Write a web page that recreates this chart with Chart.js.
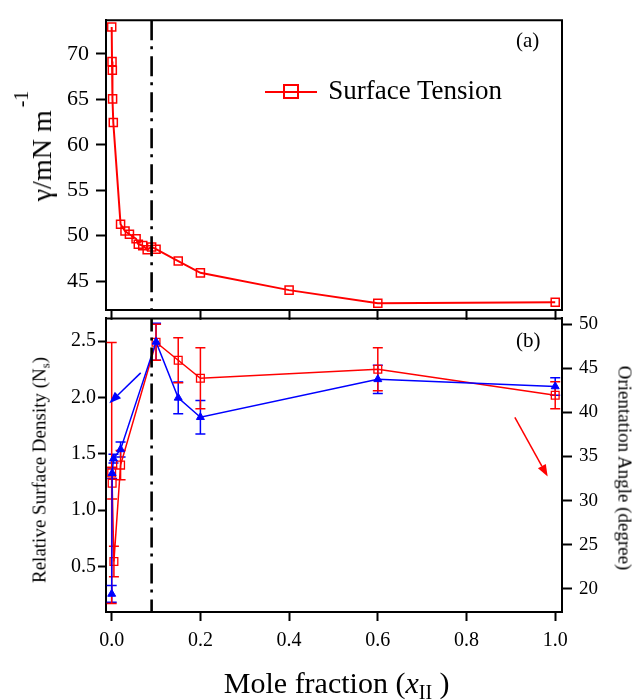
<!DOCTYPE html>
<html><head><meta charset="utf-8">
<script src="https://cdn.jsdelivr.net/npm/chart.js@4.4.1/dist/chart.umd.min.js"></script>
<style>
html,body{margin:0;padding:0;background:#fff;}
#wrap{position:relative;width:632px;height:700px;overflow:hidden;font-family:'Liberation Serif','Times New Roman',serif;color:#000;}
canvas{position:absolute;left:0;}
.t{position:absolute;white-space:nowrap;line-height:1;}
.rot{transform:translate(-50%,-50%) rotate(-90deg);}
.rotr{transform:translate(-50%,-50%) rotate(90deg);}
.ctr{transform:translateX(-50%);}
</style></head><body>
<div id="wrap">
<canvas id="cA" width="632" height="330" style="top:0"></canvas>
<canvas id="cB" width="632" height="400" style="top:300px"></canvas>

<div class="t rot" style="left:41.5px;top:146px;font-size:28px">γ/mN m<span style="font-size:20px;position:relative;top:-23px;margin-left:3px">-1</span></div>
<div class="t rot" style="left:38.6px;top:470px;font-size:19px">Relative Surface Density (N<span style="font-size:13px;position:relative;top:4px">s</span>)</div>
<div class="t rotr" style="left:625.4px;top:467.5px;font-size:19px">Orientation Angle (degree)</div>
<div class="t ctr" style="left:336.7px;top:668px;font-size:30px">Mole fraction (<i>x</i><span style="font-size:20px;position:relative;top:6px">II</span> )</div>
<div class="t" style="left:516px;top:30px;font-size:21px">(a)</div>
<div class="t" style="left:516px;top:330px;font-size:21px">(b)</div>

<div style="position:absolute;left:265px;top:90.5px;width:52px;height:2.5px;background:#ff0000"></div>
<div style="position:absolute;left:282.7px;top:84px;width:16px;height:15px;border:2px solid #ff0000;box-sizing:border-box"></div>
<div class="t" style="left:328.3px;top:77.4px;font-size:27px">Surface Tension</div>
</div>
<script>
// ---------------- data ----------------
const xTicks = [0, 0.2, 0.4, 0.6, 0.8, 1.0];
const tensionTicks = [45, 50, 55, 60, 65, 70];
const densityTicks = [0.5, 1.0, 1.5, 2.0, 2.5];
const angleTicks = [20, 25, 30, 35, 40, 45, 50];

const surfaceX = [0, 0.0007, 0.0014, 0.002, 0.0036, 0.02, 0.03, 0.04, 0.055, 0.06, 0.07, 0.08, 0.09, 0.1, 0.15, 0.2, 0.4, 0.6, 1.0];
const surfaceTension = [72.95, 69.15, 68.2, 65.05, 62.45, 51.25, 50.5, 50.15, 49.65, 49.05, 48.9, 48.45, 48.75, 48.5, 47.2, 45.9, 44.0, 42.56, 42.67];

const densityX = [0, 0.001, 0.005, 0.02, 0.1, 0.15, 0.2, 0.6, 1.0];
const density = [1.33, 1.24, 0.545, 1.40, 2.49, 2.33, 2.17, 2.25, 2.02];
const densityErr = [1.157, 0.14, 0.135, 0.13, 0.16, 0.2, 0.27, 0.19, 0.12];

const angleX = [0, 0.001, 0.004, 0.02, 0.1, 0.15, 0.2, 0.6, 1.0];
const angle = [19.4, 33.1, 34.75, 35.8, 48.0, 41.65, 39.45, 43.75, 42.94];
const angleErr = [0.95, 0.6, 0.5, 0.85, 2.1, 1.8, 1.9, 1.6, 1.0];

const cmcX = 0.09;
// annotation arrows in data units (x, left axis)
const arrowNotes = [
  {from: [0.0654, 2.218], to: [-0.0054, 1.948], color: '#0000ff'},
  {from: [0.909, 1.824], to: [0.983, 1.298], color: '#ff0000'}
];

// ---------------- helpers ----------------
Chart.defaults.font.family = "'Liberation Serif','Times New Roman',serif";
Chart.defaults.color = '#000';
const RED = '#ff0000', BLUE = '#0000ff';
const pts = (xs, ys) => xs.map((x, i) => ({x, y: ys[i]}));
const fixTicks = arr => (scale) => { scale.ticks = arr.map(v => ({value: v})); };
const XMIN = -0.01285, XMAX = 1.0153;

const errorBars = {
  id: 'errorBars',
  beforeDatasetsDraw(chart) {
    const ctx = chart.ctx;
    chart.data.datasets.forEach((ds) => {
      if (!ds.errors) return;
      const ys = chart.scales[ds.yAxisID], xs = chart.scales.x;
      ctx.save();
      ctx.strokeStyle = ds.borderColor; ctx.lineWidth = 1.5;
      ds.data.forEach((p, j) => {
        const e = ds.errors[j];
        const x = xs.getPixelForValue(p.x);
        const y1 = ys.getPixelForValue(p.y + e), y2 = ys.getPixelForValue(p.y - e);
        ctx.beginPath();
        ctx.moveTo(x, y1); ctx.lineTo(x, y2);
        ctx.moveTo(x - 5, y1); ctx.lineTo(x + 5, y1);
        ctx.moveTo(x - 5, y2); ctx.lineTo(x + 5, y2);
        ctx.stroke();
      });
      ctx.restore();
    });
  }
};

const cmcLine = {
  id: 'cmcLine',
  afterDatasetsDraw(chart, args, opts) {
    const ctx = chart.ctx, a = chart.chartArea;
    const x = chart.scales.x.getPixelForValue(cmcX);
    ctx.save();
    ctx.setLineDash([20, 6, 3, 7]);
    ctx.lineDashOffset = opts.offset || 0;
    ctx.lineWidth = 2.6; ctx.strokeStyle = '#000';
    ctx.beginPath(); ctx.moveTo(x, a.top); ctx.lineTo(x, a.bottom); ctx.stroke();
    ctx.restore();
  }
};

const frame = {
  id: 'frame',
  afterDraw(chart, args, opts) {
    const ctx = chart.ctx, a = chart.chartArea;
    ctx.save(); ctx.strokeStyle = '#000'; ctx.lineWidth = 2;
    ctx.beginPath();
    if (opts.top) { ctx.moveTo(a.left - 1, a.top); ctx.lineTo(a.right + 1, a.top); }
    if (opts.right) { ctx.moveTo(a.right, a.top); ctx.lineTo(a.right, a.bottom); }
    ctx.stroke(); ctx.restore();
  }
};

const arrows = {
  id: 'arrows',
  afterDatasetsDraw(chart) {
    const ctx = chart.ctx, xs = chart.scales.x, ys = chart.scales.yL;
    arrowNotes.forEach(n => {
      const x1 = xs.getPixelForValue(n.from[0]), y1 = ys.getPixelForValue(n.from[1]);
      const x2 = xs.getPixelForValue(n.to[0]), y2 = ys.getPixelForValue(n.to[1]);
      const ang = Math.atan2(y2 - y1, x2 - x1), L = 12, W = 4.5;
      ctx.save(); ctx.strokeStyle = n.color; ctx.fillStyle = n.color; ctx.lineWidth = 1.5;
      const bx = x2 - L * Math.cos(ang), by = y2 - L * Math.sin(ang);
      ctx.beginPath(); ctx.moveTo(x1, y1); ctx.lineTo(bx, by); ctx.stroke();
      ctx.beginPath(); ctx.moveTo(x2, y2);
      ctx.lineTo(bx + W * Math.sin(ang), by - W * Math.cos(ang));
      ctx.lineTo(bx - W * Math.sin(ang), by + W * Math.cos(ang));
      ctx.closePath(); ctx.fill(); ctx.restore();
    });
  }
};

const axisStyle = (tickLen) => ({
  grid: {drawOnChartArea: false, drawTicks: true, tickLength: tickLen, tickWidth: 2, tickColor: '#000', color: '#000'},
  border: {display: true, color: '#000', width: 2}
});

// ---------------- chart (a) ----------------
new Chart(document.getElementById('cA'), {
  type: 'scatter',
  data: {datasets: [{
    data: pts(surfaceX, surfaceTension), yAxisID: 'y',
    showLine: true, borderColor: RED, borderWidth: 2, tension: 0,
    pointStyle: 'rect', pointRadius: 5.7, pointBorderWidth: 1.5,
    pointBorderColor: RED, pointBackgroundColor: 'rgba(0,0,0,0)'
  }]},
  options: {
    responsive: false, animation: false, devicePixelRatio: 1,
    layout: {padding: {left: 0, top: 15, right: 70, bottom: 0}},
    plugins: {legend: {display: false}, tooltip: {enabled: false},
      frame: {top: true, right: true}, cmcLine: {offset: 0}},
    scales: {
      x: {type: 'linear', position: 'bottom', min: XMIN, max: XMAX, ...axisStyle(10),
        ticks: {display: false}, afterBuildTicks: fixTicks(xTicks),
        afterFit: s => { s.height = 20; }},
      y: {type: 'linear', position: 'left', min: 41.834, max: 73.706, ...axisStyle(10),
        ticks: {font: {size: 22}, padding: 7, callback: v => String(v)},
        afterBuildTicks: fixTicks(tensionTicks), afterFit: s => { s.width = 106; }}
    }
  },
  plugins: [cmcLine, frame]
});

// ---------------- chart (b) ----------------
new Chart(document.getElementById('cB'), {
  type: 'scatter',
  data: {datasets: [
    {label: 'Orientation Angle', data: pts(angleX, angle), errors: angleErr, yAxisID: 'yR', order: 0,
     showLine: true, borderColor: BLUE, borderWidth: 1.5, tension: 0,
     pointStyle: 'triangle', pointRadius: 4.6, pointBorderWidth: 1,
     pointBorderColor: BLUE, pointBackgroundColor: BLUE},
    {label: 'Relative Surface Density', data: pts(densityX, density), errors: densityErr, yAxisID: 'yL', order: 1,
     showLine: true, borderColor: RED, borderWidth: 1.5, tension: 0,
     pointStyle: 'rect', pointRadius: 5.5, pointBorderWidth: 1.3,
     pointBorderColor: RED, pointBackgroundColor: 'rgba(0,0,0,0)'}
  ]},
  options: {
    responsive: false, animation: false, devicePixelRatio: 1,
    layout: {padding: {left: 0, top: 10, right: 0, bottom: 0}},
    plugins: {legend: {display: false}, tooltip: {enabled: false},
      frame: {top: true, right: false}, cmcLine: {offset: 295 % 36}},
    scales: {
      x: {type: 'linear', position: 'bottom', min: XMIN, max: XMAX, ...axisStyle(9),
        ticks: {font: {size: 20}, padding: 8, callback: v => v.toFixed(1)},
        afterBuildTicks: fixTicks(xTicks), afterFit: s => { s.height = 88; }},
      yL: {type: 'linear', position: 'left', min: 0.0974, max: 2.7009, ...axisStyle(8),
        ticks: {font: {size: 20}, padding: 2, callback: v => v.toFixed(1)},
        afterBuildTicks: fixTicks(densityTicks), afterFit: s => { s.width = 106; }},
      yR: {type: 'linear', position: 'right', min: 17.353, max: 50.662, ...axisStyle(10),
        ticks: {font: {size: 19}, padding: 7, callback: v => String(v)},
        afterBuildTicks: fixTicks(angleTicks), afterFit: s => { s.width = 70; }}
    }
  },
  plugins: [errorBars, cmcLine, frame, arrows]
});
</script>
</body></html>
